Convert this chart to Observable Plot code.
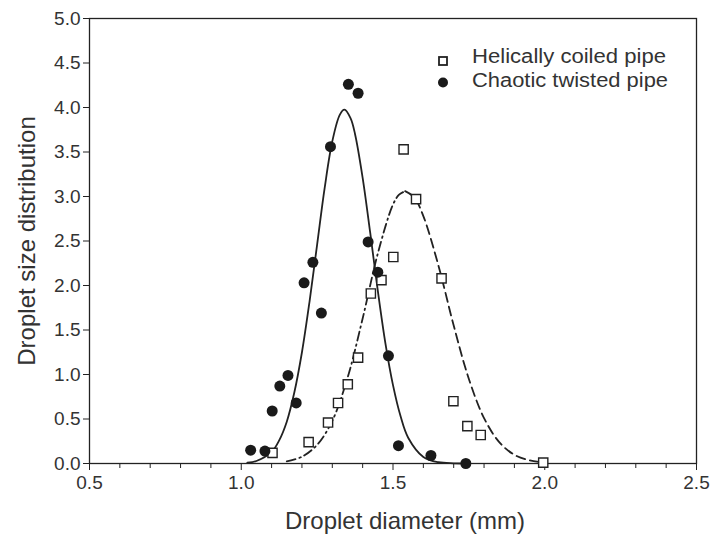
<!DOCTYPE html>
<html>
<head>
<meta charset="utf-8">
<script src="https://cdn.jsdelivr.net/npm/d3@7"></script>
<script src="https://cdn.jsdelivr.net/npm/@observablehq/plot@0.6"></script>
<style>
  html, body { margin: 0; padding: 0; background: #fff; }
  #chart { width: 711px; height: 535px; }
</style>
</head>
<body>
<div id="chart"></div>
<script>
// ---- data ----
const seriesNames = ["Helically coiled pipe", "Chaotic twisted pipe"];

// Helically coiled pipe (open squares)
const helicalX = [1.103, 1.222, 1.286, 1.319, 1.351, 1.385, 1.427, 1.462, 1.501, 1.535, 1.576, 1.660, 1.699, 1.745, 1.789, 1.995];
const helicalY = [0.12, 0.24, 0.46, 0.68, 0.89, 1.19, 1.91, 2.06, 2.32, 3.53, 2.97, 2.08, 0.70, 0.42, 0.32, 0.01];

// Chaotic twisted pipe (filled circles)
const chaoticX = [1.031, 1.078, 1.102, 1.127, 1.154, 1.181, 1.207, 1.236, 1.264, 1.294, 1.353, 1.385, 1.418, 1.450, 1.485, 1.518, 1.625, 1.740];
const chaoticY = [0.15, 0.14, 0.59, 0.87, 0.99, 0.68, 2.03, 2.26, 1.69, 3.56, 4.26, 4.16, 2.49, 2.15, 1.21, 0.20, 0.09, 0.00];

// fitted curve of chaotic twisted pipe (solid line)
const chaoticFitX = [1.02, 1.05, 1.10, 1.125, 1.15, 1.175, 1.20, 1.225, 1.25, 1.275, 1.30, 1.325, 1.34, 1.36, 1.375, 1.40, 1.425, 1.45, 1.475, 1.50, 1.525, 1.55, 1.60, 1.65, 1.70, 1.73];
const chaoticFitY = [0.01, 0.028, 0.13, 0.26, 0.47, 0.80, 1.25, 1.82, 2.46, 3.10, 3.62, 3.92, 3.975, 3.88, 3.70, 3.21, 2.59, 1.94, 1.35, 0.88, 0.53, 0.29, 0.074, 0.014, 0.002, 0.0];

// fitted curve of helically coiled pipe (dashed line)
const helicalFitX = [1.15, 1.20, 1.25, 1.30, 1.35, 1.40, 1.45, 1.50, 1.52, 1.54, 1.57, 1.60, 1.65, 1.70, 1.75, 1.80, 1.85, 1.90, 1.95, 2.00];
const helicalFitY = [0.024, 0.076, 0.21, 0.48, 0.96, 1.63, 2.36, 2.91, 3.02, 3.06, 2.99, 2.78, 2.22, 1.55, 0.95, 0.51, 0.24, 0.097, 0.035, 0.01];

const xDomain = [0.5, 2.5];
const yDomain = [0, 5];
const xTicks = [0.5, 1.0, 1.5, 2.0, 2.5];
const xMinorTicks = [0.6, 0.7, 0.8, 0.9, 1.1, 1.2, 1.3, 1.4, 1.6, 1.7, 1.8, 1.9, 2.1, 2.2, 2.3, 2.4];
const yTicks = [0, 0.5, 1.0, 1.5, 2.0, 2.5, 3.0, 3.5, 4.0, 4.5, 5.0];
const xLabel = "Droplet diameter (mm)";
const yLabel = "Droplet size distribution";

// ---- tables built from the arrays ----
const helical = helicalX.map((x, i) => ({x, y: helicalY[i]}));
const chaotic = chaoticX.map((x, i) => ({x, y: chaoticY[i]}));
const chaoticFit = chaoticFitX.map((x, i) => ({x, y: chaoticFitY[i]}));
const helicalFit = helicalFitX.map((x, i) => ({x, y: helicalFitY[i]}));
const peakX = helicalFitX[helicalFitY.indexOf(d3.max(helicalFitY))];
const helicalFitLeft = helicalFit.filter(d => d.x <= peakX);
const helicalFitRight = helicalFit.filter(d => d.x >= peakX);

const ink = "#222";
const fmt = d3.format(".1f");

const plot = Plot.plot({
  width: 711,
  height: 535,
  marginLeft: 89,
  marginRight: 15,
  marginTop: 18,
  marginBottom: 72,
  x: {domain: xDomain},
  y: {domain: yDomain},
  style: {fontFamily: "'Liberation Sans', Arial, sans-serif", fontSize: "19px", color: ink, background: "white", overflow: "visible"},
  marks: [
    Plot.frame({stroke: ink, strokeWidth: 1.3}),
    Plot.axisX({ticks: xMinorTicks, tickSize: 5, tickFormat: () => "", label: null, stroke: ink}),
    Plot.axisX({ticks: xTicks, tickSize: 7, tickPadding: 5, tickFormat: fmt, label: null, stroke: ink, fill: "#333"}),
    Plot.axisY({ticks: yTicks, tickSize: 6, tickPadding: 3, tickFormat: fmt, label: null, stroke: ink, fill: "#333"}),
    Plot.text([xLabel], {frameAnchor: "bottom", lineAnchor: "middle", textAnchor: "middle", dy: 58, dx: 12, fontSize: 24, fill: "#333"}),
    Plot.text([yLabel], {frameAnchor: "left", rotate: -90, lineAnchor: "middle", textAnchor: "middle", dx: -62, fontSize: 24, fill: "#333"}),
    Plot.line(chaoticFit, {x: "x", y: "y", curve: "catmull-rom", stroke: ink, strokeWidth: 1.8}),
    Plot.line(helicalFitLeft, {x: "x", y: "y", curve: "catmull-rom", stroke: ink, strokeWidth: 1.8, strokeDasharray: "9,4,1.5,4"}),
    Plot.line(helicalFitRight, {x: "x", y: "y", curve: "catmull-rom", stroke: ink, strokeWidth: 1.8, strokeDasharray: "9,5"}),
    Plot.dot(helical, {x: "x", y: "y", symbol: "square", r: 5.2, fill: "white", stroke: ink, strokeWidth: 1.4}),
    Plot.dot(chaotic, {x: "x", y: "y", r: 5.5, fill: "#1a1a1a", stroke: "none"})
  ]
});

document.getElementById("chart").appendChild(plot);

// ---- legend (inside the plot frame, top right) ----
const svg = d3.select(plot);
const lg = svg.append("g")
  .attr("font-family", "'Liberation Sans', Arial, sans-serif")
  .attr("font-size", 20)
  .attr("text-anchor", "start")
  .attr("fill", "#333");
lg.append("rect").attr("x", 439).attr("y", 57).attr("width", 8).attr("height", 8)
  .attr("fill", "white").attr("stroke", ink).attr("stroke-width", 1.8);
lg.append("circle").attr("cx", 443).attr("cy", 82.5).attr("r", 5).attr("fill", "#1a1a1a");
lg.append("text").attr("x", 472).attr("y", 63).attr("textLength", 194).attr("lengthAdjust", "spacingAndGlyphs").text(seriesNames[0]);
lg.append("text").attr("x", 472).attr("y", 86.5).attr("textLength", 196).attr("lengthAdjust", "spacingAndGlyphs").text(seriesNames[1]);
</script>
</body>
</html>
